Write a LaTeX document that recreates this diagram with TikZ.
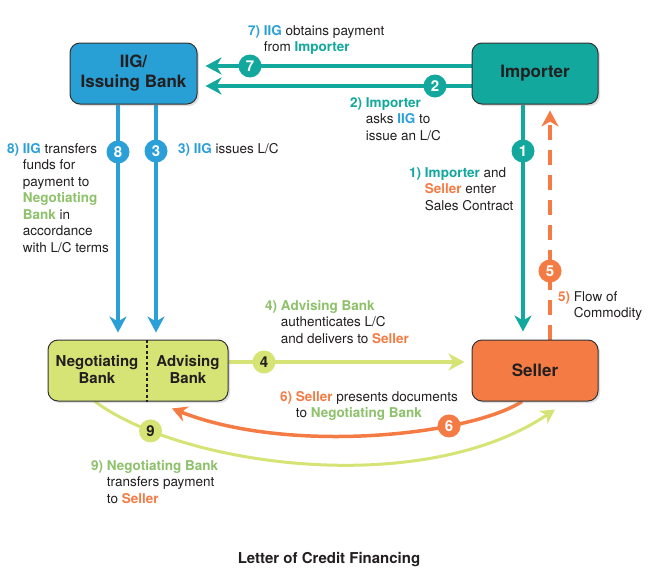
\documentclass[tikz,border=0pt]{standalone}
\usepackage{fontspec}
\setmainfont{TeX Gyre Heros}
\usetikzlibrary{arrows.meta,shadows,backgrounds}
\definecolor{iigblue}{HTML}{289FD5}
\definecolor{tealc}{HTML}{12A89D}
\definecolor{orangec}{HTML}{F47C44}
\definecolor{lgreen}{HTML}{D6E475}
\definecolor{tgreen}{HTML}{8DC16A}
\definecolor{tblue}{HTML}{2A9FD8}
\definecolor{ink}{HTML}{231F20}
\definecolor{bordc}{HTML}{333333}
\newcommand{\cblue}[1]{\textcolor{tblue}{\textbf{#1}}}
\newcommand{\cteal}[1]{\textcolor{tealc}{\textbf{#1}}}
\newcommand{\corange}[1]{\textcolor{orangec}{\textbf{#1}}}
\newcommand{\cgreen}[1]{\textcolor{tgreen}{\textbf{#1}}}
\tikzset{
  box/.style={draw=bordc, line width=1pt, rounded corners=10pt, text=ink,
    font=\fontsize{17}{20}\selectfont\bfseries, align=center, inner sep=0pt,
    drop shadow={shadow xshift=2pt, shadow yshift=-2pt, opacity=0.25}},
  banktxt/.style={text=ink, font=\fontsize{15}{17}\selectfont\bfseries, align=center, inner sep=0pt},
  numc/.style={circle, minimum size=23pt, inner sep=0pt, font=\fontsize{15}{15}\selectfont\bfseries, text=white},
  lbl/.style={anchor=base west, inner sep=0pt, text=ink, font=\fontsize{13.5}{16.5}\selectfont},
  flow/.style={line width=4pt, -{Stealth[length=16pt,width=17pt,inset=5pt]}},
}
\begin{document}
\begin{tikzpicture}[x=1pt,y=-1pt]
\useasboundingbox (0,0) rectangle (656,581);
% boxes
\node[box, fill=iigblue, minimum width=127pt, minimum height=61pt] (iig) at (133.5,73.5) {IIG/\\Issuing Bank};
\node[box, fill=tealc, minimum width=126pt, minimum height=61pt] (importer) at (535,73.5) {Importer};
\node[box, fill=orangec, minimum width=126pt, minimum height=61pt] (seller) at (535,370.5) {Seller};
\node[box, fill=lgreen, minimum width=180pt, minimum height=61pt] (bank) at (138,370.5) {};
\draw[ink, line width=1.2pt, dash pattern=on 3pt off 2.5pt] ([xshift=9pt]bank.north) -- ([xshift=9pt]bank.south);
\node[banktxt] (negt) at (97,369) {Negotiating\\Bank};
\node[banktxt] (advt) at (188,369) {Advising\\Bank};
% connectors
\begin{scope}[on background layer]
\fill[white] (0,0) rectangle (656,581);
\draw[flow, tealc] ([yshift=7.5pt]importer.west) -- ([yshift=7.5pt,xshift=8pt]iig.east);
\draw[flow, tealc] ([yshift=-12.5pt]importer.west) -- ([yshift=-12.5pt,xshift=8pt]iig.east);
\draw[flow, tealc] ([xshift=-12pt]importer.south) -- ([xshift=-12pt,yshift=8pt]seller.north);
\draw[flow, orangec, dash pattern=on 15pt off 10pt] ([xshift=15pt]seller.north) -- ([xshift=15pt,yshift=-6pt]importer.south);
\draw[flow, tblue, line width=4.5pt] ([xshift=22.5pt]iig.south) -- ([xshift=18pt,yshift=7pt]bank.north);
\draw[flow, tblue, line width=4.5pt] ([xshift=-15.5pt]iig.south) -- ([xshift=-20pt,yshift=7pt]bank.north);
\draw[flow, lgreen] ([yshift=8.5pt]bank.east) -- ([yshift=8.5pt,xshift=-7pt]seller.west);
\draw[orangec, line width=3.5pt, -{Stealth[length=15pt,width=16pt,inset=5pt]}]
  ([xshift=-13pt]seller.south) .. controls (470,435) and (290,455) .. ([xshift=34pt,yshift=-7pt]bank.south)
  node[numc, fill=orangec, pos=0.29] (c6) {6};
\draw[lgreen, line width=3pt, -{Stealth[length=14pt,width=15pt,inset=4pt]}]
  ([xshift=-43pt]bank.south) .. controls (180,465) and (420,500) .. ([xshift=20pt,yshift=-8pt]seller.south)
  node[numc, fill=lgreen, text=ink, pos=0.17] (c9) {9};
\end{scope}
% number circles
\node[numc, fill=tealc] (c7) at (250,66) {7};
\node[numc, fill=tealc] (c2) at (435,86) {2};
\node[numc, fill=tealc] (c1) at (523,151) {1};
\node[numc, fill=orangec] (c5) at (550,271) {5};
\node[numc, fill=tblue] (c3) at (156,151) {3};
\node[numc, fill=tblue] (c8) at (118,152) {8};
\node[numc, fill=lgreen, text=ink] (c4) at (264,362) {4};
% labels
\node[lbl] (l7) at (248,35) {\begin{tabular}[t]{@{}l@{\ }l@{}}\cblue{7)} & \cblue{IIG} obtains payment\\ & from \cteal{Importer}\end{tabular}};
\node[lbl] (l2) at (350,107) {\begin{tabular}[t]{@{}l@{\ }l@{}}\cteal{2)} & \cteal{Importer}\\ & asks \cblue{IIG} to\\ & issue an L/C\end{tabular}};
\node[lbl] (l3) at (178,153) {\begin{tabular}[t]{@{}l@{\ }l@{}}\cblue{3)} & \cblue{IIG} issues L/C\end{tabular}};
\node[lbl] (l8) at (7,153) {\begin{tabular}[t]{@{}l@{\ }l@{}}\cblue{8)} & \cblue{IIG} transfers\\ & funds for\\ & payment to\\ & \cgreen{Negotiating}\\ & \cgreen{Bank} in\\ & accordance\\ & with L/C terms\end{tabular}};
\node[lbl] (l1) at (409,177) {\begin{tabular}[t]{@{}l@{\ }l@{}}\cteal{1)} & \cteal{Importer} and\\ & \corange{Seller} enter\\ & Sales Contract\end{tabular}};
\node[lbl] (l5) at (558,301) {\begin{tabular}[t]{@{}l@{\ }l@{}}\corange{5)} & Flow of\\ & Commodity\end{tabular}};
\node[lbl] (l4) at (265,310) {\begin{tabular}[t]{@{}l@{\ }l@{}}\cgreen{4)} & \cgreen{Advising Bank}\\ & authenticates L/C\\ & and delivers to \corange{Seller}\end{tabular}};
\node[lbl] (l6) at (280,401) {\begin{tabular}[t]{@{}l@{\ }l@{}}\corange{6)} & \corange{Seller} presents documents\\ & to \cgreen{Negotiating Bank}\end{tabular}};
\node[lbl] (l9) at (91,470) {\begin{tabular}[t]{@{}l@{\ }l@{}}\cgreen{9)} & \cgreen{Negotiating Bank}\\ & transfers payment\\ & to \corange{Seller}\end{tabular}};
\node[font=\fontsize{15}{18}\selectfont\bfseries, text=ink, anchor=base, inner sep=0pt] (title) at (329,563) {Letter of Credit Financing};
\end{tikzpicture}
\end{document}
